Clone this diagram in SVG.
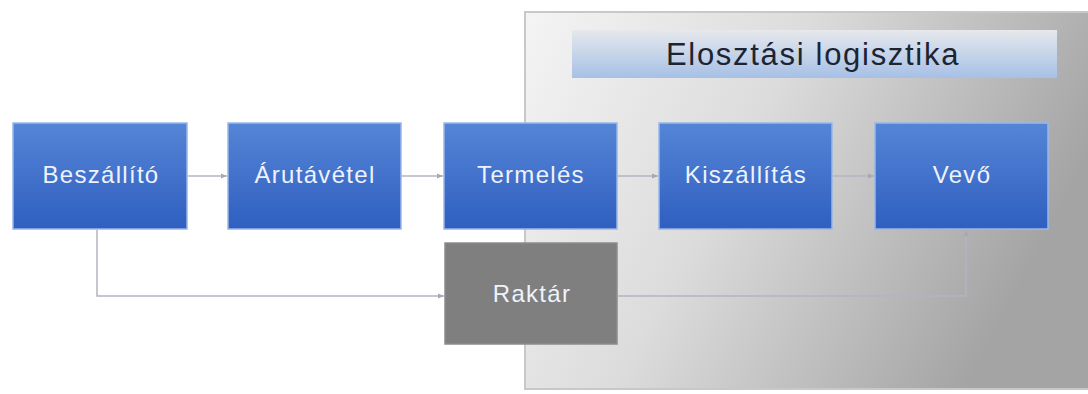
<svg xmlns="http://www.w3.org/2000/svg" width="1088" height="394" viewBox="0 0 1088 394">
<defs>
<linearGradient id="panelG" x1="0" y1="0" x2="1" y2="0.35">
<stop offset="0" stop-color="#f4f4f4"/>
<stop offset="0.45" stop-color="#dcdcdc"/>
<stop offset="1" stop-color="#a4a4a4"/>
</linearGradient>
<linearGradient id="banG" x1="0" y1="0" x2="0" y2="1">
<stop offset="0" stop-color="#e6e8ec"/>
<stop offset="1" stop-color="#a6c0e6"/>
</linearGradient>
<linearGradient id="blueG" x1="0" y1="0" x2="0" y2="1">
<stop offset="0" stop-color="#5585d6"/>
<stop offset="1" stop-color="#2f5fc0"/>
</linearGradient>
<marker id="arr" markerWidth="8" markerHeight="8" refX="7" refY="4" orient="auto" markerUnits="userSpaceOnUse">
<path d="M1,1.5 L7,4 L1,6.5 Z" fill="#a8a8b4"/>
</marker>
<style>
.blue{fill:url(#blueG);stroke:#9bb6e8;stroke-width:1.5}
.lbl{font-family:"Liberation Sans","Open Sans",sans-serif;font-size:24px;letter-spacing:1.3px;fill:#eef2fb;text-anchor:middle}
.con{fill:none;stroke:#b4b4c0;stroke-width:1.5}
</style>
</defs>
<g id="panel">
<rect x="525" y="12" width="570" height="377" fill="url(#panelG)" stroke="#c8c8c8" stroke-width="2"/>
<rect x="572" y="30" width="485" height="48" fill="url(#banG)"/>
<text x="813" y="65" font-family="Liberation Sans, Open Sans, sans-serif" font-size="31" letter-spacing="1.7" fill="#1c2433" text-anchor="middle">Elosztási logisztika</text>
</g>
<g id="connectors">
<line class="con" x1="188" y1="176" x2="227" y2="176" marker-end="url(#arr)"/>
<line class="con" x1="401" y1="176" x2="443" y2="176" marker-end="url(#arr)"/>
<line class="con" x1="617" y1="176" x2="658" y2="176" marker-end="url(#arr)"/>
<line class="con" x1="833" y1="176" x2="874" y2="176" marker-end="url(#arr)"/>
<polyline class="con" points="97,230 97,296 444,296" marker-end="url(#arr)"/>
<polyline class="con" points="618,296 966,296 966,230" marker-end="url(#arr)"/>
</g>
<g id="beszallito"><rect class="blue" x="13" y="123" width="174" height="106"/><text class="lbl" x="101" y="183">Beszállító</text></g>
<g id="arutavetel"><rect class="blue" x="228" y="123" width="173" height="106"/><text class="lbl" x="315" y="183">Árutávétel</text></g>
<g id="termeles"><rect class="blue" x="444" y="123" width="173" height="106"/><text class="lbl" x="531" y="183">Termelés</text></g>
<g id="kiszallitas"><rect class="blue" x="659" y="123" width="173" height="106"/><text class="lbl" x="746" y="183">Kiszállítás</text></g>
<g id="vevo"><rect class="blue" x="875" y="123" width="173" height="106"/><text class="lbl" x="962" y="183">Vevő</text></g>
<g id="raktar"><rect x="445" y="243" width="172" height="101" fill="#7f7f7f" stroke="#8c8c8c" stroke-width="1.5"/><text class="lbl" x="532" y="302">Raktár</text></g>
</svg>
